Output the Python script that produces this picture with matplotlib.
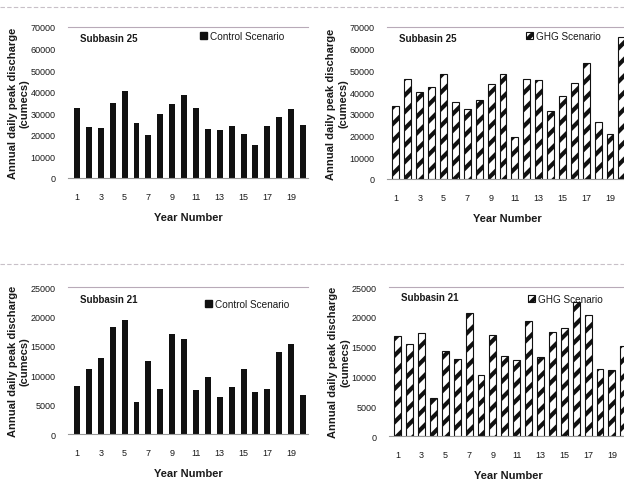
import matplotlib
matplotlib.use("Agg")
import matplotlib.pyplot as plt
from matplotlib.patches import Patch

plt.rcParams["font.family"] = ["Liberation Sans", "DejaVu Sans"]
plt.rcParams["hatch.linewidth"] = 3.0

years = list(range(1, 21))
tick_years = list(range(1, 20, 2))

control_25 = [32400, 23600, 23100, 34800, 40100, 25400, 19700, 29600, 34200, 38400,
              32400, 22500, 22000, 23900, 20200, 15400, 23900, 28200, 32100, 24400]
ghg_25 = [33800, 45900, 39800, 42500, 48400, 35200, 32400, 36400, 43600, 48200,
          19500, 45900, 45600, 31200, 38200, 44200, 53600, 26100, 20900, 65200]
control_21 = [8200, 11100, 13000, 18200, 19400, 5500, 12400, 7700, 17000, 16100,
              7500, 9800, 6400, 8100, 11000, 7100, 7700, 13900, 15300, 6600]
ghg_21 = [16800, 15500, 17300, 6400, 14200, 13000, 20700, 10200, 16900, 13500,
          12700, 19300, 13300, 17400, 18100, 22500, 20300, 11300, 11100, 15100]

TEXT = "#1a1a1a"

fig = plt.figure(figsize=(6.24, 4.89), dpi=100)

# (left, bottom, width, height) in figure fractions
paneles = [
    dict(rect=[0.109, 0.634, 0.385, 0.309], datos=control_25, ymax=70000, paso=10000,
         titulo="Subbasin 25", serie="Control Scenario", hatch=None,
         tit_y=0.927, leg_x=0.55, leg_y=0.94),
    dict(rect=[0.620, 0.632, 0.385, 0.311], datos=ghg_25, ymax=70000, paso=10000,
         titulo="Subbasin 25", serie="GHG Scenario", hatch="//",
         tit_y=0.927, leg_x=0.58, leg_y=0.94),
    dict(rect=[0.109, 0.110, 0.385, 0.301], datos=control_21, ymax=25000, paso=5000,
         titulo="Subbasin 21", serie="Control Scenario", hatch=None,
         tit_y=0.92, leg_x=0.57, leg_y=0.885),
    dict(rect=[0.623, 0.106, 0.385, 0.305], datos=ghg_21, ymax=25000, paso=5000,
         titulo="Subbasin 21", serie="GHG Scenario", hatch="//",
         tit_y=0.93, leg_x=0.58, leg_y=0.92),
]

for p in paneles:
    ax = fig.add_axes(p["rect"])
    if p["hatch"]:
        ax.bar(years, p["datos"], width=0.58, color="white", edgecolor="#111111",
               hatch=p["hatch"], linewidth=0.8)
        handle = Patch(facecolor="white", edgecolor="#111111", hatch="///", linewidth=0.8)
    else:
        ax.bar(years, p["datos"], width=0.5, color="#111111")
        handle = Patch(facecolor="#111111", edgecolor="#111111")

    ax.set_xlim(0.24, 20.44)
    ax.set_ylim(0, p["ymax"])
    ax.set_yticks(range(0, p["ymax"] + 1, p["paso"]))
    ax.set_xticks(tick_years)
    ax.tick_params(axis="y", length=0, pad=9, labelsize=6.5, colors=TEXT)
    ax.tick_params(axis="x", length=0, pad=10, labelsize=6.5, colors=TEXT)
    for lado in ("left", "right", "top"):
        ax.spines[lado].set_visible(False)
    ax.spines["bottom"].set_color("#999999")
    ax.spines["bottom"].set_linewidth(0.8)
    ax.axhline(p["ymax"], color="#b8aab8", lw=0.8, clip_on=False)

    ax.set_xlabel("Year Number", fontsize=8, fontweight="bold", color=TEXT, labelpad=8)
    ax.set_ylabel("Annual daily peak discharge\n(cumecs)", fontsize=8,
                  fontweight="bold", color=TEXT, linespacing=1.25)
    # second line sits just left of the tick labels
    ax.yaxis.set_label_coords(-0.16, 0.5)

    ax.text(0.05, p["tit_y"], p["titulo"], transform=ax.transAxes, fontsize=7,
            fontweight="bold", color=TEXT, va="center", ha="left")
    ax.legend([handle], [p["serie"]], loc="center left",
              bbox_to_anchor=(p["leg_x"], p["leg_y"]), frameon=False, fontsize=7.2,
              handlelength=0.7, handleheight=0.7, handletextpad=0.3,
              borderpad=0, borderaxespad=0, labelcolor=TEXT)

# faint separator lines from the scanned page
for y in (1 - 8 / 489, 1 - 265 / 489):
    fig.add_artist(plt.Line2D([0, 1], [y, y], transform=fig.transFigure,
                              color="#c8c0c8", lw=0.8, ls=(0, (4, 2))))

fig.savefig("out.png", dpi=100)
